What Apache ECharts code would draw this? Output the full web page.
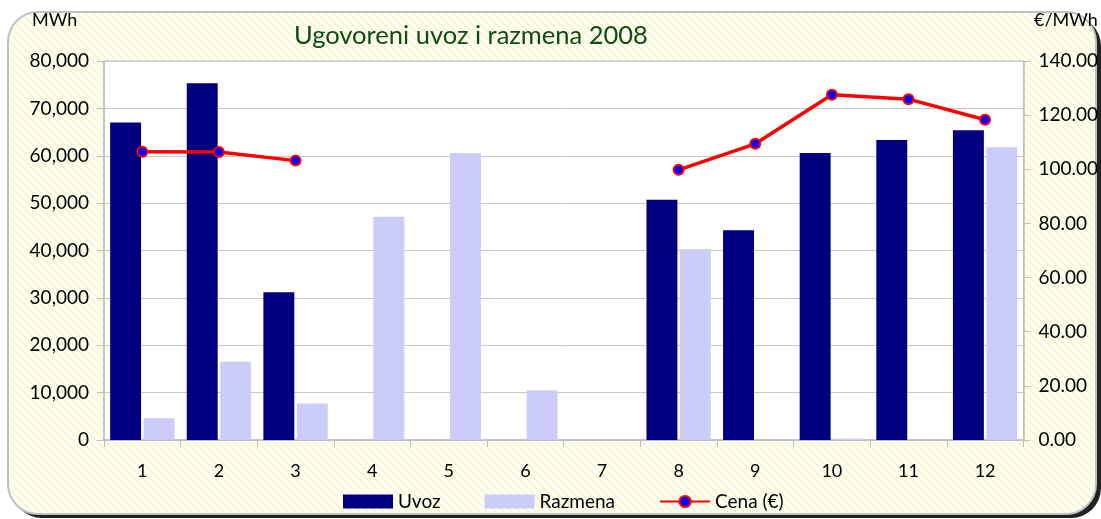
<!DOCTYPE html>
<html><head><meta charset="utf-8">
<script src="https://cdn.jsdelivr.net/npm/echarts@6/dist/echarts.min.js"></script>
<style>html,body{margin:0;padding:0;background:#fff}#c{width:1101px;height:519px}</style>
</head><body><div id="c"></div>
<script>
const months = ['1','2','3','4','5','6','7','8','9','10','11','12'];
const uvoz = [67000, 75300, 31200, 0, 0, 0, 0, 50700, 44300, 60600, 63300, 65400];
const razmena = [4600, 16500, 7700, 47100, 60600, 10500, 0, 40300, 0, 300, 0, 61800];
const cena = [106.5, 106.4, 103.2, null, null, null, null, 99.8, 109.4, 127.5, 125.9, 118.3];
const leftTicks = [0, 80000, 10000];
const rightTicks = [0, 140, 20];

const pc = document.createElement('canvas');
pc.width = 8; pc.height = 8;
const g = pc.getContext('2d');
g.fillStyle = '#fffff4'; g.fillRect(0,0,8,8);
g.strokeStyle = '#f3f3c8'; g.lineWidth = 1.5;
g.beginPath(); g.moveTo(0,0); g.lineTo(8,8); g.moveTo(-4,4); g.lineTo(4,12); g.moveTo(4,-4); g.lineTo(12,4); g.stroke();

const font = 'Lato, "Open Sans", sans-serif';
const chart = echarts.init(document.getElementById('c'));
chart.setOption({
  animation: false,
  graphic: [
    {type:'rect', z:-10, shape:{x:12,y:16,width:1089,height:502,r:[30,30,30,30]}, style:{fill:'#222'}},
    {type:'rect', z:-9, shape:{x:8,y:12,width:1088,height:502,r:[30,30,30,30]}, style:{fill:{image:pc, repeat:'repeat'}, stroke:'#c0c0c0', lineWidth:2}},
    {type:'text', left:32, top:11, style:{text:'MWh', font:'18px '+font, fill:'#000'}},
    {type:'text', left:1034, top:11, style:{text:'€/MWh', font:'18px '+font, fill:'#000'}}
  ],
  title: {text:'Ugovoreni uvoz i razmena 2008', left:289, top:18,
    textStyle:{color:'#0f4a12', fontSize:25.5, fontWeight:'normal', fontFamily:font}},
  grid: {left:104, right:76, top:61, bottom:79, show:true, backgroundColor:'#fff', borderColor:'#c0c0c0', borderWidth:1},
  legend: {bottom:3, left:338, itemGap:44, itemWidth:50, itemHeight:14,
    textStyle:{fontSize:19, fontFamily:font, color:'#000'},
    data:[{name:'Uvoz', icon:'rect'},{name:'Razmena', icon:'rect'},{name:'Cena (€)'}]},
  xAxis: {type:'category', data:months,
    axisLine:{lineStyle:{color:'#bdbdbd', width:1.5}},
    axisTick:{show:true, length:7, lineStyle:{color:'#bdbdbd'}},
    axisLabel:{fontSize:18, fontFamily:font, color:'#000', margin:22}},
  yAxis: [
    {type:'value', min:leftTicks[0], max:leftTicks[1], interval:leftTicks[2],
     axisLine:{show:true, lineStyle:{color:'#bdbdbd', width:1.5}},
     axisTick:{show:true, length:7, lineStyle:{color:'#bdbdbd'}},
     splitLine:{lineStyle:{color:'#c8c8c8'}},
     axisLabel:{fontSize:19, fontFamily:font, color:'#000', margin:15,
       formatter:v=>v.toLocaleString('en-US')}},
    {type:'value', min:rightTicks[0], max:rightTicks[1], interval:rightTicks[2], position:'right',
     axisLine:{show:true, lineStyle:{color:'#bdbdbd', width:1.5}},
     axisTick:{show:true, length:7, lineStyle:{color:'#bdbdbd'}},
     splitLine:{show:false},
     axisLabel:{fontSize:19, fontFamily:font, color:'#000', margin:15,
       formatter:v=>v.toFixed(2)}}
  ],
  series: [
    {name:'Uvoz', type:'bar', data:uvoz, barGap:'8%', barCategoryGap:'16%', itemStyle:{color:'#000080'}},
    {name:'Razmena', type:'bar', data:razmena, itemStyle:{color:'#ccccfa'}},
    {name:'Cena (€)', type:'line', yAxisIndex:1, data:cena, connectNulls:false,
     lineStyle:{color:'#ff0000', width:3.5}, symbol:'circle', symbolSize:10,
     itemStyle:{color:'#0000ff', borderColor:'#ff0000', borderWidth:2}}
  ]
});
</script></body></html>
